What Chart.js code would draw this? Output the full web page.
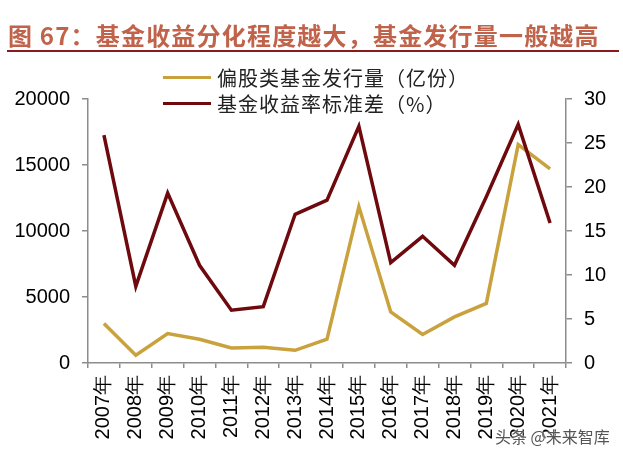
<!DOCTYPE html>
<html>
<head>
<meta charset="utf-8">
<script src="https://cdn.jsdelivr.net/npm/chart.js@4"></script>
<style>
  html, body { margin: 0; padding: 0; background: #fff; }
  #wrap { position: relative; width: 623px; height: 460px; overflow: hidden; }
  #title {
    position: absolute; left: 8px; top: 17px;
    font-family: "Noto Sans CJK SC", sans-serif; font-weight: bold;
    font-size: 24px; color: #c0634a; letter-spacing: 1.2px; white-space: nowrap;
  }
  #rule { position: absolute; left: 7px; top: 50px; width: 612px; height: 2px; background: #8b1a1a; }
  #legend { position: absolute; left: 163px; top: 64px; font-family: "Noto Sans CJK SC", sans-serif; font-size: 20px; color: #222; letter-spacing: 1px; }
  .item { display: flex; align-items: center; height: 26px; }
  .swatch { width: 48px; height: 3px; margin-right: 6px; }
  #mark {
    position: absolute; left: 495px; top: 424px; font-family: "Noto Sans CJK SC", sans-serif;
    font-size: 16px; color: #555; text-shadow: 0 0 2px #fff, 0 0 2px #fff;
  }
  canvas { position: absolute; left: 0; top: 0; }
</style>
</head>
<body>
<div id="wrap">
  <canvas id="chart" width="623" height="460"></canvas>
  <div id="title">图 67：基金收益分化程度越大，基金发行量一般越高</div>
  <div id="rule"></div>
  <div id="legend"></div>
  <div id="mark">头条 @未来智库</div>
</div>
<script>
// 年份
const years = ['2007年', '2008年', '2009年', '2010年', '2011年', '2012年', '2013年', '2014年',
  '2015年', '2016年', '2017年', '2018年', '2019年', '2020年', '2021年'];
// 偏股类基金发行量（亿份）
const issuance = [3000, 590, 2230, 1800, 1140, 1190, 960, 1800, 11850, 3870, 2160, 3490, 4510, 16540, 14710];
// 基金收益率标准差（%）
const stdev = [25.9, 8.7, 19.3, 11.1, 6.0, 6.4, 16.9, 18.5, 26.9, 11.4, 14.4, 11.1, 18.9, 27.1, 15.9];

const leftTicks = [0, 5000, 10000, 15000, 20000];
const rightTicks = [0, 5, 10, 15, 20, 25, 30];

const gold = '#c9a23e';
const darkRed = '#6e0a0e';
const axisGray = '#8c8c8c';

const datasets = [
  { label: '偏股类基金发行量（亿份）', data: issuance, borderColor: gold, yAxisID: 'yL', order: 1 },
  { label: '基金收益率标准差（%）', data: stdev, borderColor: darkRed, yAxisID: 'yR', order: 0 }
];

// 图例
const legend = document.getElementById('legend');
datasets.forEach(ds => {
  const row = document.createElement('div');
  row.className = 'item';
  row.innerHTML = `<span class="swatch" style="background:${ds.borderColor}"></span><span>${ds.label}</span>`;
  legend.appendChild(row);
});

const tickFont = { family: '"Liberation Sans", Arial, sans-serif', size: 20 };
const plain = v => String(v);

new Chart(document.getElementById('chart'), {
  type: 'line',
  data: {
    labels: years,
    datasets: datasets.map(ds => ({
      ...ds,
      borderWidth: 3.5,
      pointRadius: 0,
      tension: 0,
      fill: false
    }))
  },
  options: {
    responsive: false,
    animation: false,
    layout: { padding: { top: 99, left: 0, right: 0, bottom: 0 } },
    plugins: { legend: { display: false }, tooltip: { enabled: false } },
    scales: {
      x: {
        offset: true,
        grid: { offset: true, drawOnChartArea: false, drawTicks: true, tickLength: 5, color: axisGray, lineWidth: 1.5 },
        border: { color: axisGray, width: 1.5 },
        ticks: { color: '#000', font: tickFont, minRotation: 90, maxRotation: 90, padding: 7, autoSkip: false },
        afterFit: s => { s.height = 97; }
      },
      yL: {
        position: 'left',
        min: 0, max: 20000,
        afterBuildTicks: s => { s.ticks = leftTicks.map(v => ({ value: v })); },
        grid: { drawOnChartArea: false, tickLength: 6, color: axisGray, lineWidth: 1.5 },
        border: { color: axisGray, width: 1.5 },
        ticks: { color: '#000', font: tickFont, padding: 12, callback: plain },
        afterFit: s => { s.width = 88; }
      },
      yR: {
        position: 'right',
        min: 0, max: 30,
        afterBuildTicks: s => { s.ticks = rightTicks.map(v => ({ value: v })); },
        grid: { drawOnChartArea: false, tickLength: 6, color: axisGray, lineWidth: 1.5 },
        border: { color: axisGray, width: 1.5 },
        ticks: { color: '#000', font: tickFont, padding: 12, callback: plain },
        afterFit: s => { s.width = 57; }
      }
    }
  }
});
</script>
</body>
</html>
